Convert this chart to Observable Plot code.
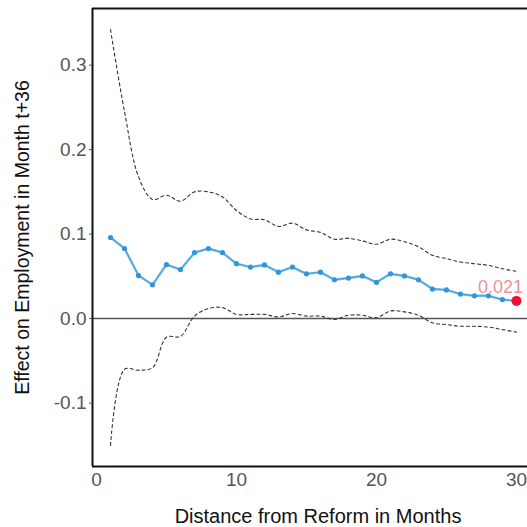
<!DOCTYPE html>
<html>
<head>
<meta charset="utf-8">
<script src="https://cdn.jsdelivr.net/npm/d3@7"></script>
<script src="https://cdn.jsdelivr.net/npm/@observablehq/plot@0.6"></script>
<style>
  html, body { margin: 0; padding: 0; background: #fff; }
  #chart svg { display: block; }
</style>
</head>
<body>
<div id="chart"></div>
<script>
const months = d3.range(1, 31);
const estimate = [0.096, 0.083, 0.051, 0.040, 0.064, 0.058, 0.078, 0.083, 0.078, 0.065,
                  0.061, 0.0635, 0.055, 0.061, 0.053, 0.055, 0.046, 0.048, 0.0505, 0.043,
                  0.053, 0.0505, 0.046, 0.035, 0.034, 0.029, 0.027, 0.027, 0.0225, 0.021];
const upper = [0.342, 0.245, 0.168, 0.141, 0.146, 0.139, 0.150, 0.150, 0.144, 0.128,
               0.118, 0.117, 0.109, 0.113, 0.105, 0.102, 0.094, 0.095, 0.092, 0.088,
               0.094, 0.091, 0.085, 0.075, 0.071, 0.067, 0.065, 0.063, 0.059, 0.056];
const lower = [-0.150, -0.060, -0.061, -0.058, -0.022, -0.021, 0.003, 0.012, 0.013, 0.005,
               0.005, 0.005, 0.002, 0.006, 0.003, 0.003, -0.001, 0.004, 0.004, 0.001,
               0.009, 0.008, 0.004, -0.005, -0.007, -0.009, -0.009, -0.010, -0.013, -0.016];
const xTicks = [0, 10, 20, 30];
const yTicks = [-0.1, 0.0, 0.1, 0.2, 0.3];
const xDomain = [-0.286, 30.79];
const yDomain = [-0.175, 0.367];
const xTitle = "Distance from Reform in Months";
const yTitle = "Effect on Employment in Month t+36";

const rows = months.map((m, i) => ({m, est: estimate[i], hi: upper[i], lo: lower[i]}));
const last = rows[rows.length - 1];

const chart = Plot.plot({
  width: 527,
  height: 527,
  marginLeft: 92,
  marginRight: 0,
  marginTop: 8,
  marginBottom: 61,
  style: {fontFamily: "'Liberation Sans', Arial, sans-serif", background: "#fff"},
  x: {domain: xDomain},
  y: {domain: yDomain},
  marks: [
    Plot.ruleY([0], {stroke: "#555", strokeWidth: 1.5}),
    Plot.line(rows, {x: "m", y: "hi", stroke: "#333", strokeWidth: 1.1, strokeDasharray: "3,3", curve: "catmull-rom"}),
    Plot.line(rows, {x: "m", y: "lo", stroke: "#333", strokeWidth: 1.1, strokeDasharray: "3,3", curve: "catmull-rom"}),
    Plot.line(rows, {x: "m", y: "est", stroke: "#6cbcf0", strokeWidth: 2.4}),
    Plot.line(rows, {x: "m", y: "est", stroke: "#3a5a78", strokeWidth: 0.6, strokeOpacity: 0.6}),
    Plot.dot(rows, {x: "m", y: "est", r: 2.6, fill: "#2f95dd", stroke: "none"}),
    Plot.dot([last], {x: "m", y: "est", r: 5, fill: "#ee1133", stroke: "none"}),
    Plot.text([last], {x: "m", y: "est", text: d => d.est.toFixed(3), dy: -14, dx: -16, fill: "#f58e9c", fontSize: 18}),
    Plot.ruleY([yDomain[1]], {stroke: "#111", strokeWidth: 2}),
    Plot.ruleY([yDomain[0]], {stroke: "#111", strokeWidth: 2}),
    Plot.ruleX([xDomain[0]], {stroke: "#111", strokeWidth: 2}),
    Plot.axisY({ticks: yTicks, tickFormat: d => d.toFixed(1), tickSize: 3, tickPadding: 3, fontSize: 19, color: "#555", label: null}),
    Plot.axisX({ticks: xTicks, tickFormat: d => String(d), tickSize: 0, tickPadding: 6, fontSize: 19, color: "#555", label: null}),
    Plot.text([xTitle], {frameAnchor: "bottom", dy: 50, dx: 8, fontSize: 20, fill: "#111", lineAnchor: "middle", textAnchor: "middle"}),
    Plot.text([yTitle], {frameAnchor: "left", dx: -70, rotate: -90, fontSize: 19.5, fill: "#111", lineAnchor: "middle", textAnchor: "middle"})
  ]
});
document.getElementById("chart").appendChild(chart);
</script>
</body>
</html>
